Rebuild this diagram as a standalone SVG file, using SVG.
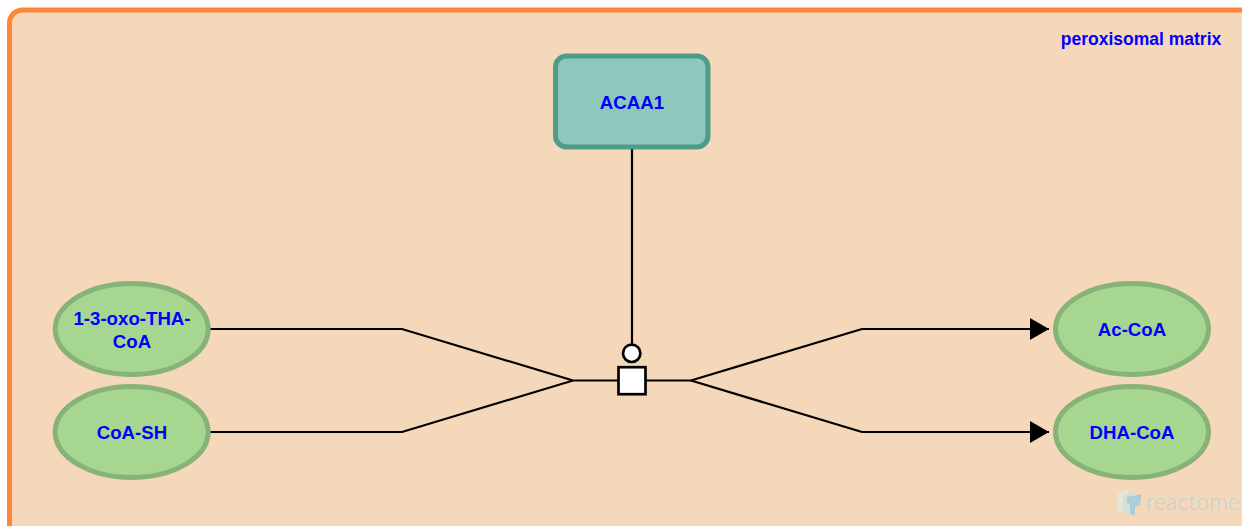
<svg xmlns="http://www.w3.org/2000/svg" width="1242" height="526" viewBox="0 0 1242 526">
<style>
text{font-family:"Liberation Sans",Arial,sans-serif;font-weight:700;font-size:18.67px;fill:#0000ff;text-anchor:middle}
.entity{fill:#a6d690;stroke:#88b378;stroke-width:5}
.edge{fill:none;stroke:#000;stroke-width:2.200}
.glyph{fill:#fff;stroke:#000;stroke-width:2.700}
</style>
<defs>
<marker id="arrow" markerUnits="userSpaceOnUse" markerWidth="20" markerHeight="22" refX="19" refY="11" orient="auto">
<path d="M0 0L19 11L0 22Z" fill="#000"/>
</marker>
</defs>
<g id="compartment">
<rect x="9.500" y="10" width="1400" height="700" rx="13" fill="#f5d7ba" stroke="#ff8636" stroke-width="5"/>
<text x="1141" y="44.500" style="font-size:17.500px">peroxisomal matrix</text>
</g>
<g id="connectors">
<path class="edge" d="M632 149V344"/>
<path class="edge" d="M209 329H402L573 380.500M209 432H402L573 380.500H618"/>
<path class="edge" d="M646 380.500H691L862 329"/>
<path class="edge" marker-end="url(#arrow)" d="M862 329H1049"/>
<path class="edge" d="M691 380.500L862 432"/>
<path class="edge" marker-end="url(#arrow)" d="M862 432H1049"/>
<circle class="glyph" cx="631.700" cy="353.300" r="8.700"/>
<rect class="glyph" x="618.500" y="367.200" width="27" height="27"/>
</g>
<g id="acaa1">
<rect x="555.500" y="56" width="152.500" height="91" rx="11" fill="#8ec7bb" stroke="#4f9a88" stroke-width="5"/>
<text x="632" y="108.500">ACAA1</text>
</g>
<g id="oxo-tha-coa">
<ellipse class="entity" cx="131.700" cy="329" rx="76.500" ry="45.500"/>
<text x="132" y="325">1-3-oxo-THA-</text>
<text x="132" y="347.500">CoA</text>
</g>
<g id="coa-sh">
<ellipse class="entity" cx="131.700" cy="432" rx="76.500" ry="45.500"/>
<text x="132" y="438.500">CoA-SH</text>
</g>
<g id="ac-coa">
<ellipse class="entity" cx="1132" cy="329" rx="76.500" ry="45.500"/>
<text x="1132" y="336">Ac-CoA</text>
</g>
<g id="dha-coa">
<ellipse class="entity" cx="1132" cy="432" rx="76.500" ry="45.500"/>
<text x="1132" y="438.500">DHA-CoA</text>
</g>
<g id="watermark">
<path d="M1118 494L1128 488V509L1118 512Z" fill="#e6e6da"/>
<path d="M1123 496L1133 491V512L1123 513Z" fill="#d3dfd8"/>
<path d="M1127 497L1142 494L1140 505L1135 507V516L1130 514V505L1127 503Z" fill="#a9cfd6"/>
<text x="1146" y="510" textLength="94" lengthAdjust="spacing" style="font-family:Lato,sans-serif;font-size:23px;font-weight:300;fill:#b5d5da;text-anchor:start">reactome</text>
</g>
</svg>
